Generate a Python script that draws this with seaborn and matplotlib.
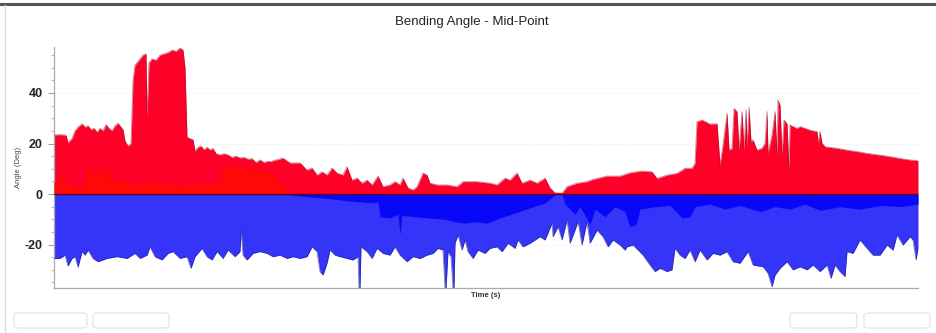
import numpy as np
import pandas as pd
import matplotlib
matplotlib.use("Agg")
import matplotlib.pyplot as plt
from matplotlib.patches import FancyBboxPatch
from matplotlib.lines import Line2D
from matplotlib.ticker import MultipleLocator
import seaborn as sns

# ---------------- data (time in s, angle in deg) ----------------
max_t = [0, 6, 12, 14, 18, 21, 24, 28, 31, 34, 37, 40, 43, 46, 49, 52, 55, 58, 61, 64,
         67, 69, 71, 74, 77, 79, 81, 85, 89, 92, 93, 95, 98, 102, 106, 110, 114, 118, 122, 126,
         129, 131, 133, 136, 139, 141, 144, 147, 150, 153, 156, 159, 162, 166, 170, 174, 178, 182, 186, 190,
         194, 198, 202, 206, 210, 214, 216, 222, 229, 236, 246, 253, 258, 263, 268, 273, 278, 283, 289, 293,
         298, 303, 308, 313, 318, 324, 329, 336, 341, 346, 349, 354, 359, 363, 369, 373, 376, 383, 393, 403,
         409, 423, 436, 443, 451, 456, 463, 468, 476, 483, 491, 496, 501, 508, 513, 523, 533, 539, 553, 566,
         576, 588, 598, 603, 613, 623, 631, 638, 641, 643, 648, 656, 663, 666, 669, 673, 675, 678, 680, 683,
         685, 688, 690, 692, 693, 695, 697, 699, 703, 708, 711, 713, 714, 718, 721, 723, 724, 726, 728, 730,
         733, 735, 736, 743, 746, 756, 763, 764, 766, 768, 771, 783, 793, 803, 813, 826, 836, 846, 856, 864]
max_v = [23.4, 23.5, 23.3, 20.2, 22.0, 25.0, 26.5, 27.8, 26.5, 27.0, 25.5, 26.0, 24.5, 26.0, 25.0, 27.5, 26.0, 25.0, 27.0, 28.0,
         26.5, 25.5, 21.0, 19.0, 20.0, 45.0, 51.0, 53.0, 55.0, 55.5, 30.0, 52.0, 53.5, 53.0, 55.0, 55.5, 56.0, 57.0, 56.5, 57.8,
         57.0, 50.0, 22.5, 22.0, 21.5, 17.0, 18.5, 19.0, 17.5, 18.5, 17.5, 18.0, 16.0, 15.5, 16.0, 15.5, 14.5, 15.0, 14.3, 14.5,
         13.8, 14.0, 12.5, 13.5, 12.5, 13.0, 12.8, 13.5, 14.2, 12.3, 12.3, 9.5, 10.3, 7.5, 8.8, 7.5, 10.3, 8.3, 7.5, 10.8,
         5.5, 6.3, 4.3, 5.5, 3.6, 7.1, 2.9, 3.6, 4.9, 3.6, 6.3, 2.4, 1.6, 2.9, 8.3, 7.5, 4.3, 3.6, 3.6, 2.9,
         4.9, 4.9, 4.3, 3.6, 6.3, 5.5, 8.3, 4.3, 5.5, 4.3, 6.3, 2.4, 0.5, 0.3, 2.9, 4.3, 4.9, 5.8, 7.1, 7.1,
         8.4, 9.1, 8.8, 6.2, 7.5, 8.2, 10.2, 10.2, 12.1, 28.6, 29.3, 27.7, 27.8, 11.5, 19.4, 32.0, 17.4, 18.1, 33.9, 32.6,
         17.4, 32.6, 17.4, 33.3, 18.7, 34.3, 20.7, 21.4, 17.4, 18.1, 20.1, 32.6, 16.1, 23.4, 32.6, 15.4, 37.2, 35.2, 15.4, 29.3,
         27.8, 9.5, 27.3, 26.0, 26.7, 25.3, 24.7, 20.1, 24.7, 20.1, 18.7, 18.1, 17.4, 16.8, 16.1, 15.4, 14.8, 14.1, 13.5, 13.2]

inner_pos_t = [0, 6, 9, 12, 16, 31, 33, 38, 41, 44, 48, 51, 54, 57, 66, 81, 106, 121, 146, 166,
               168, 186, 206, 216, 226, 236, 864]
inner_pos_v = [4.8, 4.5, 12.0, 4.0, 3.5, 3.3, 10.5, 9.5, 5.0, 10.5, 9.0, 5.0, 13.0, 5.0, 5.5, 4.0, 4.5, 3.5, 4.0, 4.5,
               11.0, 10.5, 9.5, 8.5, 5.0, 0.5, 0.5]

min_t = [0, 6, 11, 14, 18, 21, 24, 28, 31, 34, 39, 44, 53, 63, 73, 81, 86, 93, 96, 101,
         108, 114, 119, 126, 133, 137, 141, 148, 153, 158, 163, 169, 174, 181, 186, 187, 189, 193, 199, 206,
         213, 219, 226, 233, 239, 246, 253, 258, 263, 266, 269, 273, 276, 281, 286, 293, 299, 304, 305, 306,
         307, 313, 318, 323, 329, 336, 341, 346, 353, 359, 366, 373, 379, 384, 389, 391, 392, 394, 397, 399,
         400, 401, 404, 408, 411, 414, 419, 424, 431, 436, 443, 448, 454, 461, 464, 469, 476, 481, 486, 491,
         498, 499, 504, 508, 513, 516, 521, 524, 528, 533, 536, 543, 549, 554, 559, 566, 571, 573, 579, 584,
         589, 596, 601, 606, 613, 618, 621, 626, 631, 636, 641, 646, 653, 659, 666, 673, 679, 686, 694, 699,
         709, 714, 718, 721, 726, 733, 739, 746, 753, 759, 766, 773, 777, 781, 786, 791, 793, 799, 806, 813,
         819, 826, 833, 839, 843, 849, 856, 859, 862, 864]
min_v = [-25.5, -25.5, -24.2, -28.5, -25.5, -24.8, -29.0, -22.8, -24.2, -22.2, -25.5, -26.8, -25.5, -24.8, -25.5, -23.5, -25.5, -24.2, -20.9, -24.8,
         -26.1, -23.5, -22.8, -25.5, -24.8, -29.4, -24.8, -21.5, -24.8, -26.1, -22.8, -25.5, -22.2, -24.8, -22.8, -14.5, -24.2, -26.1, -23.5, -22.8,
         -23.5, -24.8, -24.2, -25.5, -24.8, -25.5, -24.8, -20.9, -22.8, -30.7, -32.1, -27.4, -22.2, -24.2, -24.8, -25.5, -26.1, -24.8, -37.5, -37.5,
         -20.9, -22.8, -25.5, -21.5, -23.5, -24.2, -20.9, -24.2, -26.8, -24.8, -25.5, -24.2, -23.5, -21.5, -22.2, -37.5, -37.5, -22.8, -24.8, -37.5,
         -37.5, -19.5, -16.2, -22.2, -18.2, -22.8, -25.5, -22.2, -23.5, -21.5, -20.9, -22.8, -19.5, -21.5, -18.2, -20.9, -19.5, -18.2, -16.9, -18.2,
         -11.6, -16.9, -12.9, -18.2, -10.3, -19.5, -14.3, -10.9, -20.2, -10.9, -19.5, -14.3, -16.9, -20.9, -18.2, -20.2, -22.2, -20.9, -20.2, -22.2,
         -24.2, -28.1, -30.7, -29.4, -30.7, -30.0, -21.5, -24.2, -25.5, -22.2, -26.8, -22.2, -26.1, -23.5, -24.2, -22.8, -26.8, -27.4, -22.8, -28.1,
         -28.8, -31.4, -36.7, -32.1, -29.4, -26.8, -30.0, -28.8, -30.0, -28.1, -30.7, -28.1, -33.4, -28.1, -30.7, -32.7, -22.8, -23.5, -18.2, -21.5,
         -24.2, -24.2, -20.2, -22.2, -16.2, -20.2, -16.9, -18.2, -26.1, -21.5]

inner_neg_t = [0, 236, 246, 266, 279, 296, 316, 324, 326, 336, 344, 346, 348, 361, 376, 391, 401, 411, 421, 433,
               446, 461, 476, 491, 499, 502, 508, 511, 521, 526, 536, 541, 551, 561, 571, 576, 582, 586, 601, 616,
               628, 636, 641, 656, 671, 686, 706, 721, 736, 751, 766, 786, 806, 826, 846, 864]
inner_neg_v = [-0.2, -0.3, -0.8, -1.5, -2.0, -2.8, -3.5, -3.2, -9.0, -9.5, -8.0, -16.0, -8.5, -9.0, -9.5, -10.0, -11.0, -11.5, -11.0, -11.5,
               -9.5, -7.5, -5.5, -3.5, -1.0, 0.0, 0.0, -4.0, -8.0, -5.0, -12.0, -6.0, -9.0, -5.0, -7.0, -13.0, -12.0, -6.0, -5.0, -4.5,
               -9.5, -9.0, -5.0, -4.0, -6.0, -4.5, -7.0, -5.0, -6.0, -4.0, -6.5, -5.0, -6.0, -4.5, -5.0, -4.0]

yticks = [-20, 0, 20, 40]
title = "Bending Angle - Mid-Point"
ylabel = "Angle (Deg)"
xlabel = "Time (s)"

# ---------------- plotting ----------------
sns.set_theme(style="white")
plt.rcParams['font.family'] = ['Liberation Sans', 'DejaVu Sans']
plt.rcParams['axes.unicode_minus'] = False

fig = plt.figure(figsize=(9.37, 3.33), dpi=100)
ax = fig.add_axes([54/937, 1-288/333, (918-54)/937, (288-47)/333])

df_max = pd.DataFrame({"t": max_t, "v": max_v})
df_ipos = pd.DataFrame({"t": inner_pos_t, "v": inner_pos_v})
df_min = pd.DataFrame({"t": min_t, "v": min_v})
df_ineg = pd.DataFrame({"t": inner_neg_t, "v": inner_neg_v})

RED_OUT = "#ff0028"
RED_IN = "#ff0808"
BLUE_OUT = "#3535fa"
BLUE_IN = "#0808f8"

ax.fill_between(df_max.t, 0, df_max.v, color=RED_OUT, lw=0, zorder=2)
ax.fill_between(df_ipos.t, 0, df_ipos.v, color=RED_IN, lw=0, zorder=3)
ax.fill_between(df_min.t, 0, df_min.v, color=BLUE_OUT, lw=0, zorder=2)
ax.fill_between(df_ineg.t, 0, df_ineg.v, color=BLUE_IN, lw=0, zorder=3)

sns.lineplot(data=df_max, x="t", y="v", ax=ax, color="#9a1030", lw=0.6, alpha=0.55, zorder=4, estimator=None, sort=False)
sns.lineplot(data=df_min, x="t", y="v", ax=ax, color="#22227a", lw=0.6, alpha=0.6, zorder=4, estimator=None, sort=False)
ax.axhline(0, color="#5a0018", lw=0.9, zorder=5)

ax.set_xlim(0, 864)
ax.set_ylim(-37.2, 58.2)
ax.set_yticks(yticks)
ax.yaxis.set_minor_locator(MultipleLocator(5))
ax.set_xticks([])
ax.grid(axis="y", which="major", color="#e6e6e6", lw=0.7, ls=(0, (1, 2)), zorder=0)
ax.tick_params(axis="y", which="major", length=4, width=0.7, color="#999999", labelsize=9,
               labelcolor="#222222", pad=4, left=True)
ax.tick_params(axis="y", which="minor", length=2, width=0.6, color="#aaaaaa", left=True)
for lab in ax.get_yticklabels():
    lab.set_fontweight("bold")
for s in ["top", "right"]:
    ax.spines[s].set_visible(False)
for s in ["left", "bottom"]:
    ax.spines[s].set_color("#aaaaaa")
    ax.spines[s].set_linewidth(0.9)
ax.set_xlabel(xlabel, fontsize=5.5, fontweight="bold", color="#333333", labelpad=3)
ax.set_ylabel(ylabel, fontsize=5.5, color="#444444")
ax.yaxis.set_label_coords((22-54)/864, (288-167)/241)

fig.text(472/937, 1-22/333, title, ha="center", va="center", fontsize=9.5, color="#222222")

# page frame and buttons
fig.add_artist(Line2D([0, 1], [1-3.5/333, 1-3.5/333], transform=fig.transFigure, color="#555555", lw=2.2))
fig.add_artist(Line2D([4.5/937, 4.5/937], [0, 1-5/333], transform=fig.transFigure, color="#dddddd", lw=1.0))
for x0, x1 in [(14, 87), (93, 169), (790, 857), (864, 930)]:
    fig.add_artist(FancyBboxPatch((x0/937, 1-328/333), (x1-x0)/937, 15/333,
                                  boxstyle="round,pad=0,rounding_size=0.006",
                                  transform=fig.transFigure, fc="white", ec="#e2e2e2", lw=0.8))

fig.savefig("out.png", dpi=100)
